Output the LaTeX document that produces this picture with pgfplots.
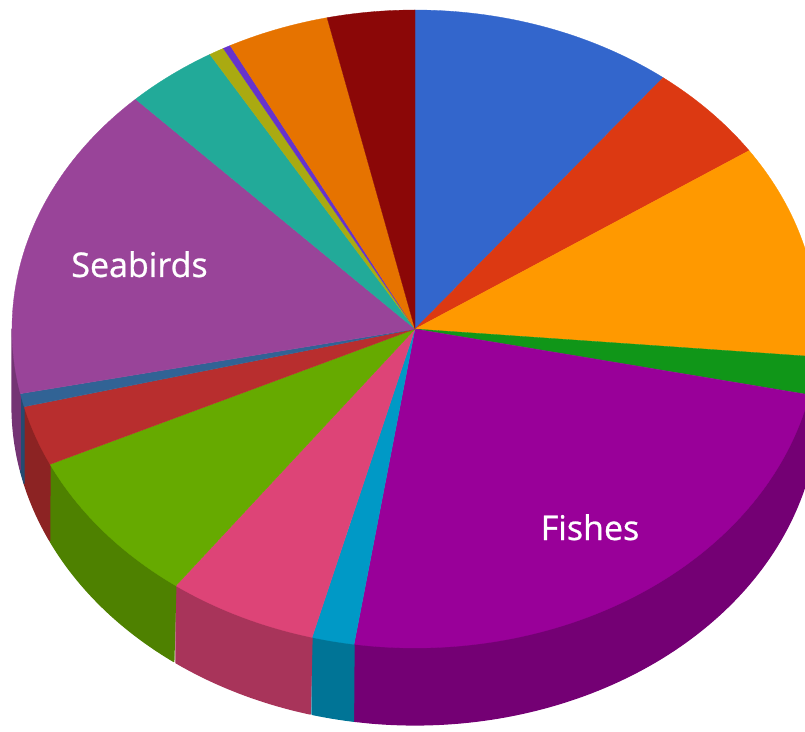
\documentclass[border=0pt]{standalone}
\usepackage{pgfplots}
\pgfplotsset{compat=1.18}
\usepackage{fontspec}
\setmainfont{Open Sans}
\newfontfamily\lblfont{Open Sans}[FakeBold=0.8]
\definecolor{cBlue}{HTML}{3366CC}
\definecolor{cRed}{HTML}{DC3912}
\definecolor{cOrange}{HTML}{FF9900}
\definecolor{cGreen}{HTML}{109618}
\definecolor{cFishes}{HTML}{990099}
\definecolor{cCyan}{HTML}{0099C6}
\definecolor{cPink}{HTML}{DD4477}
\definecolor{cLime}{HTML}{66AA00}
\definecolor{cRedTwo}{HTML}{B82E2E}
\definecolor{cBlueTwo}{HTML}{316395}
\definecolor{cSeabirds}{HTML}{994499}
\definecolor{cTeal}{HTML}{22AA99}
\definecolor{cOlive}{HTML}{AAAA11}
\definecolor{cPurple}{HTML}{6633CC}
\definecolor{cOrangeTwo}{HTML}{E67300}
\definecolor{cDarkRed}{HTML}{8B0707}
% geometry of the pie (pixel units, y up)
\def\cx{415}\def\cy{402}\def\rx{403}\def\ry{319}\def\dep{77}
% side wall of a slice between angles #1 < #2 (degrees)
\newcommand{\sidewall}[3]{%
\addplot[fill=#3!76!black, draw=#3!76!black, line width=1.2pt, line join=round,
 samples at={0,0.0125,...,1,1.000001,1.0125,...,1.98,2}]
 ({\cx+\rx*cos((#1)+((#2)-(#1))*min(x,2-x))},
  {\cy+\ry*sin((#1)+((#2)-(#1))*min(x,2-x))-\dep*(x>1)}) -- cycle;}
% top face of a slice between angles #1 < #2 (degrees)
\newcommand{\topwedge}[3]{%
\addplot[fill=#3, draw=#3, line width=0.3pt, domain=#1:#2, samples=90]
 ({\cx+\rx*cos(x)},{\cy+\ry*sin(x)}) -- (axis cs:\cx,\cy) -- cycle;}
\begin{document}
\begin{tikzpicture}
\begin{axis}[
  width=805pt, height=731pt, scale only axis,
  xmin=0, xmax=805, ymin=0, ymax=731,
  hide axis, clip=true]
% side walls (visible lower half)
\sidewall{-5}{0}{cOrange}
\sidewall{-11.9}{-5}{cGreen}
\sidewall{-98.7}{-11.9}{cFishes}
\sidewall{-104.8}{-98.7}{cCyan}
\sidewall{-126.4}{-104.8}{cPink}
\sidewall{-154.9}{-126.4}{cLime}
\sidewall{-165.9}{-154.9}{cRedTwo}
\sidewall{-168.3}{-165.9}{cBlueTwo}
\sidewall{-180}{-168.3}{cSeabirds}
% top faces: slice boundaries (degrees)
\topwedge{52}{90}{cBlue}
\topwedge{34}{52}{cRed}
\topwedge{-5}{34}{cOrange}
\topwedge{-11.9}{-5}{cGreen}
\topwedge{-98.7}{-11.9}{cFishes}
\topwedge{-104.8}{-98.7}{cCyan}
\topwedge{-126.4}{-104.8}{cPink}
\topwedge{-154.9}{-126.4}{cLime}
\topwedge{-165.9}{-154.9}{cRedTwo}
\topwedge{-168.3}{-165.9}{cBlueTwo}
\topwedge{-226.1}{-168.3}{cSeabirds}
\topwedge{-239.4}{-226.1}{cTeal}
\topwedge{-241.6}{-239.4}{cOlive}
\topwedge{-242.7}{-241.6}{cPurple}
\topwedge{-257.4}{-242.7}{cOrangeTwo}
\topwedge{-270}{-257.4}{cDarkRed}
\node[anchor=base, text=white, font=\lblfont\fontsize{34}{40}\selectfont] at (axis cs:139.5,454) {Seabirds};
\node[anchor=base, text=white, font=\lblfont\fontsize{34}{40}\selectfont] at (axis cs:590,191) {Fishes};
\end{axis}
\pgfresetboundingbox
\path[use as bounding box] (current axis.south west) rectangle (current axis.north east);
\end{tikzpicture}
\end{document}
